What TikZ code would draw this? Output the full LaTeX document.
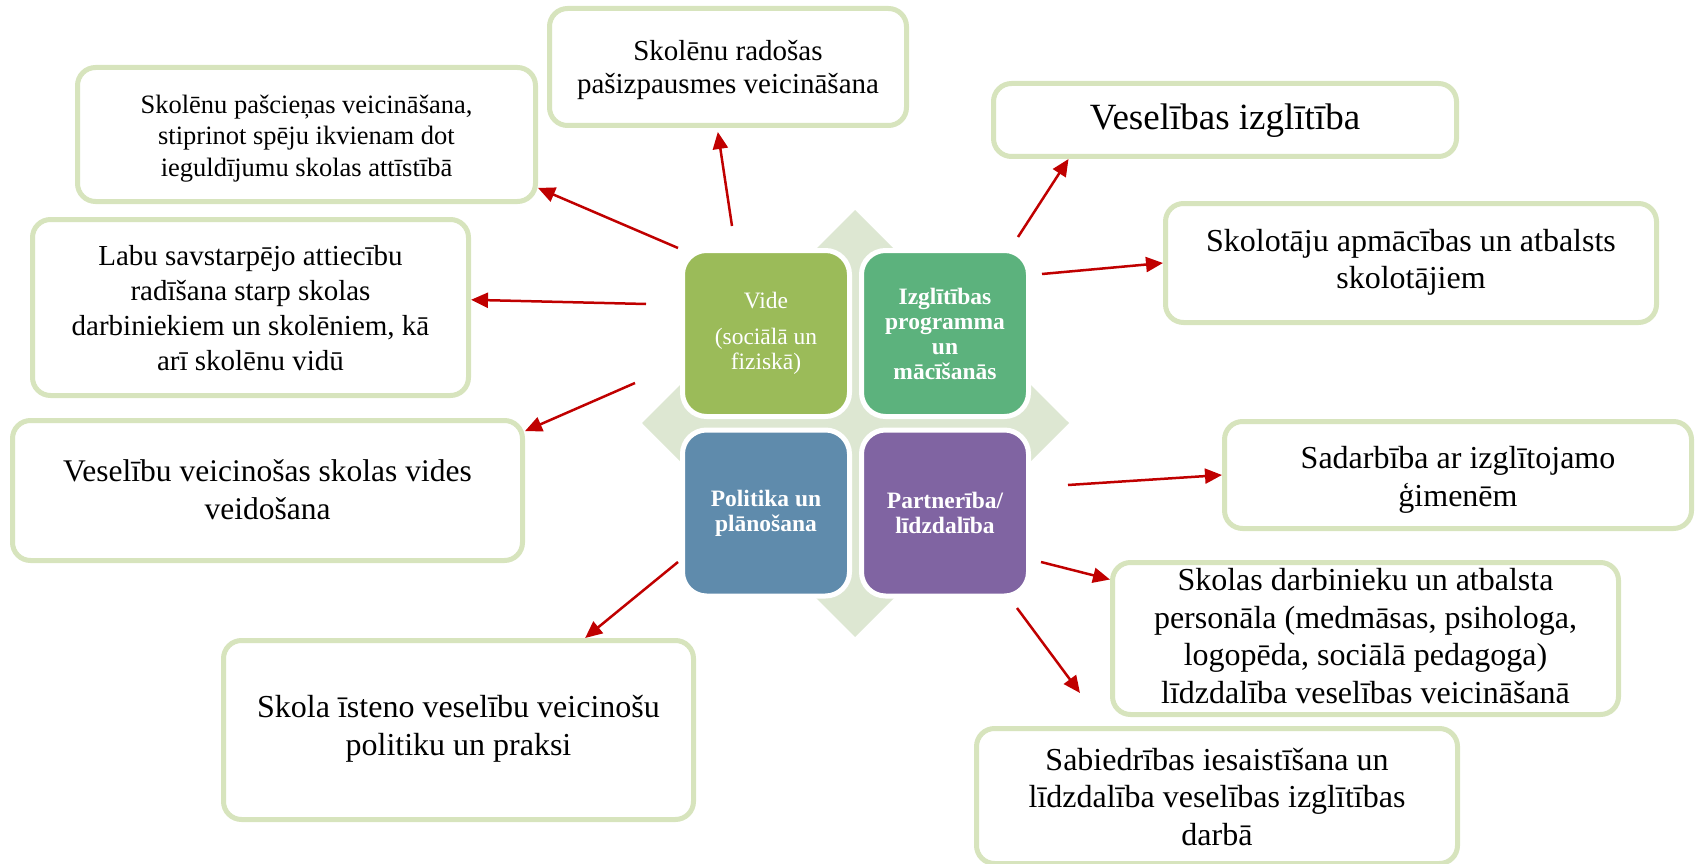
\documentclass[tikz,border=0pt]{standalone}
\usepackage{fontspec}
\setmainfont{Liberation Serif}
\usetikzlibrary{arrows.meta}
\definecolor{boxline}{RGB}{215,228,189}
\definecolor{diamondc}{RGB}{221,231,210}
\definecolor{videc}{RGB}{155,187,89}
\definecolor{izglc}{RGB}{92,178,125}
\definecolor{politc}{RGB}{95,139,172}
\definecolor{partnc}{RGB}{128,100,162}
\definecolor{arrowc}{RGB}{192,0,0}
\newcommand{\lowertext}[2]{\raisebox{-#1}[\height][\depth]{\begin{tabular}{@{}c@{}}#2\end{tabular}}}
\begin{document}
\begin{tikzpicture}[x=1pt,y=-1pt,
  txtbox/.style={draw=boxline, line width=5pt, rounded corners=18pt, fill=white, align=center, inner sep=0pt, text=black},
  sq/.style={draw=white, line width=5pt, rounded corners=24pt, minimum width=167pt, minimum height=166pt, inner sep=0pt, align=center, text=white, font=\fontsize{23.5}{25}\selectfont},
  sqb/.style={sq, font=\fontsize{23.5}{25}\selectfont\bfseries},
  arr/.style={draw=arrowc, line width=2.5pt, -{Triangle[length=17pt,width=15pt]}}]
\useasboundingbox (0,0) rectangle (1698,864);
% background diamond
\fill[diamondc] (855,210) -- (1069,423) -- (855,637) -- (642,423) -- cycle;
% centre squares
\node[sq, fill=videc] (vide) at (766,333.5) {Vide\\[11pt](sociālā un\\fiziskā)};
\node[sqb, fill=izglc] (izgl) at (945,333.5) {Izglītības\\programma\\un\\mācīšanās};
\node[sqb, fill=politc] (polit) at (766,513) {Politika un\\plānošana};
\node[sqb, fill=partnc] (partn) at (945,513) {Partnerība/\\līdzdalība};
% outer boxes
\node[txtbox, minimum width=357pt, minimum height=117pt, font=\fontsize{29}{33}\selectfont] (A) at (728,67) {\lowertext{3pt}{Skolēnu radošas\\pašizpausmes veicināšana}};
\node[txtbox, minimum width=458pt, minimum height=134pt, font=\fontsize{26.5}{31.7}\selectfont] (B) at (306.5,134.5) {\lowertext{4pt}{Skolēnu pašcieņas veicināšana,\\stiprinot spēju ikvienam dot\\ieguldījumu skolas attīstībā}};
\node[txtbox, minimum width=436pt, minimum height=176pt, font=\fontsize{29}{35}\selectfont] (C) at (250.5,307.5) {\lowertext{3pt}{Labu savstarpējo attiecību\\radīšana starp skolas\\darbiniekiem un skolēniem, kā\\arī skolēnu vidū}};
\node[txtbox, minimum width=510pt, minimum height=140pt, font=\fontsize{31.5}{38}\selectfont] (D) at (267.5,490.5) {\lowertext{2pt}{Veselību veicinošas skolas vides\\veidošana}};
\node[txtbox, minimum width=470pt, minimum height=179pt, font=\fontsize{32}{38}\selectfont] (E) at (458.5,730) {\lowertext{-1pt}{Skola īsteno veselību veicinošu\\politiku un praksi}};
\node[txtbox, minimum width=463pt, minimum height=73pt, font=\fontsize{37}{42}\selectfont] (F) at (1225,120) {\lowertext{1pt}{Veselības izglītība}};
\node[txtbox, minimum width=491pt, minimum height=119pt, font=\fontsize{32}{37}\selectfont] (G) at (1411,263) {\lowertext{0pt}{Skolotāju apmācības un atbalsts\\skolotājiem}};
\node[txtbox, minimum width=467pt, minimum height=107pt, font=\fontsize{32}{38.5}\selectfont] (H) at (1458,475) {\lowertext{5pt}{Sadarbība ar izglītojamo\\ģimenēm}};
\node[txtbox, minimum width=506pt, minimum height=152pt, font=\fontsize{32}{37.5}\selectfont] (I) at (1365.5,638.5) {\lowertext{1pt}{Skolas darbinieku un atbalsta\\personāla (medmāsas, psihologa,\\logopēda, sociālā pedagoga)\\līdzdalība veselības veicināšanā}};
\node[txtbox, minimum width=481pt, minimum height=135pt, font=\fontsize{32}{37.5}\selectfont] (J) at (1217,796) {\lowertext{4pt}{Sabiedrības iesaistīšana un\\līdzdalība veselības izglītības\\darbā}};
% arrow start points
\coordinate (sA) at (732,226);
\coordinate (sB) at (678,248);
\coordinate (sC) at (646,304);
\coordinate (sD) at (635,383);
\coordinate (sE) at (678,562);
\coordinate (sF) at (1018,237);
\coordinate (sG) at (1042,274);
\coordinate (sH) at (1068,485);
\coordinate (sI) at (1041,562);
\coordinate (sJ) at (1017,608);
\coordinate (tJ) at (1080,693);
% arrows
\draw[arr, shorten >=4pt] (sA) -- (A.260.4);
\draw[arr] (sB) -- (B.347.6);
\draw[arr] (sC) -- (C.2.5);
\draw[arr] (sD) -- (D.13);
\draw[arr] (sE) -- (E.36.5);
\draw[arr] (sF) -- (F.194);
\draw[arr] (sG) -- (G.west);
\draw[arr] (sH) -- (H.west);
\draw[arr] (sI) -- (I.167);
\draw[arr] (sJ) -- (tJ);
\end{tikzpicture}
\end{document}
